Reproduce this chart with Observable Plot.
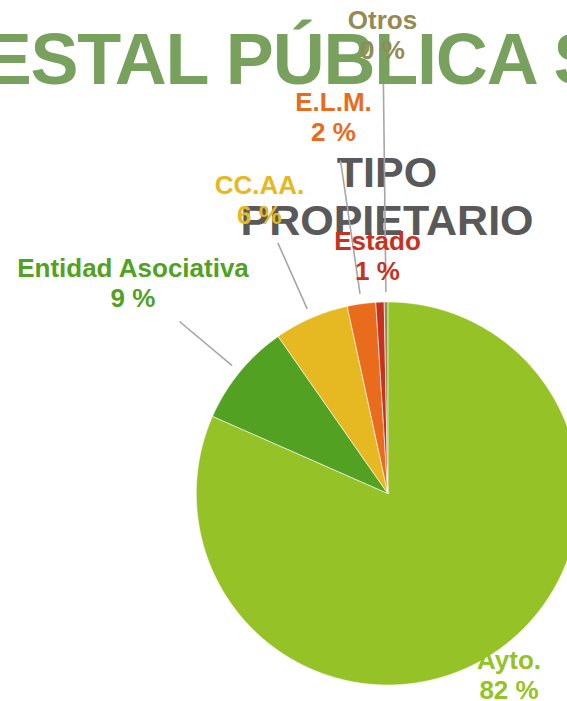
<!DOCTYPE html>
<html>
<head>
<meta charset="utf-8">
<script src="https://cdn.jsdelivr.net/npm/d3@7"></script>
<script src="https://cdn.jsdelivr.net/npm/@observablehq/plot@0.6"></script>
<style>
  html, body { margin: 0; padding: 0; background: #fff; }
  #chart svg { display: block; }
</style>
</head>
<body>
<div id="chart"></div>
<script>
// ---- data ----
const categories = ["Ayto.", "Entidad Asociativa", "CC.AA.", "E.L.M.", "Estado", "Otros"];
const shares = [81.6, 8.7, 6.3, 2.4, 0.7, 0.3];
const sliceColors = ["#95C226", "#53A123", "#E6B822", "#E96B1C", "#C7321F", "#948A54"];
const pageTitle = "ESTAL PÚBLICA S";
const chartTitle = "TIPO\nPROPIETARIO";

// ---- layout (page pixels) ----
const W = 567, H = 701, CX = 387.3, CY = 493, R = 191.5;
// baseline of the percentage line of each label
const labelAnchor = [[508.5, 698], [132.5, 306], [259, 223.3], [333, 140.7], [377, 279.3], [382, 58.3]];
// outer end of each leader line (null = no leader)
const leaderOuter = [null, [179, 321], [277.3, 242.3], [340, 160], null, [382.7, 66]];
const px = (x) => x - CX;     // page x -> plot x
const py = (y) => CY - y;     // page y -> plot y (up)

// ---- derived geometry via d3.pie ----
const pieData = categories.map((name, i) => ({name, share: shares[i]}));
const arcs = d3.pie().sort(null).value(d => d.share)(pieData);

const slicePts = [];
arcs.forEach(a => {
  const name = a.data.name;
  slicePts.push({name, x: 0, y: 0});
  const steps = Math.max(2, Math.ceil((a.endAngle - a.startAngle) / (Math.PI / 720)));
  for (let k = 0; k <= steps; k++) {
    const t = a.startAngle + (a.endAngle - a.startAngle) * k / steps;
    slicePts.push({name, x: R * Math.sin(t), y: R * Math.cos(t)});
  }
  slicePts.push({name, x: 0, y: 0});
});

const leaders = [];
arcs.forEach((a, i) => {
  if (!leaderOuter[i]) return;
  const m = (a.startAngle + a.endAngle) / 2;
  leaders.push({
    x1: (R + 10) * Math.sin(m), y1: (R + 10) * Math.cos(m),
    x2: px(leaderOuter[i][0]), y2: py(leaderOuter[i][1])
  });
});

const labels = arcs.map((a, i) => ({
  name: a.data.name,
  text: `${a.data.name}\n${Math.round(a.data.share)} %`,
  x: px(labelAnchor[i][0]),
  y: py(labelAnchor[i][1])
}));

const font = "'Liberation Sans', Arial, Helvetica, sans-serif";

const svg = Plot.plot({
  width: W,
  height: H,
  margin: 0,
  x: {domain: [-CX, W - CX], axis: null},
  y: {domain: [CY - H, CY], axis: null},
  color: {domain: categories, range: sliceColors},
  marks: [
    Plot.text([chartTitle], {
      x: () => px(386.5), y: () => py(234), text: d => d,
      fontFamily: font, fontWeight: "bold", fontSize: 43,
      lineAnchor: "bottom", lineHeight: 1.116, textAnchor: "middle",
      fill: "#595959"
    }),
    Plot.line(slicePts, {
      x: "x", y: "y", z: "name", fill: "name",
      stroke: "#ffffff", strokeWidth: 0.6, strokeLinejoin: "round", curve: "linear"
    }),
    Plot.link(leaders, {
      x1: "x1", y1: "y1", x2: "x2", y2: "y2",
      stroke: "#A6A6A6", strokeWidth: 1.6
    }),
    Plot.text([pageTitle], {
      frameAnchor: "top-left", text: d => d, dx: -16.8, dy: 83.3,
      lineAnchor: "bottom", textAnchor: "start",
      fontFamily: font, fontWeight: "bold", fontSize: 72, fill: "#78A15D"
    }),
    Plot.text(labels, {
      x: "x", y: "y", text: "text", fill: "name",
      fontFamily: font, fontWeight: "bold", fontSize: 26,
      lineAnchor: "bottom", lineHeight: 1.154, textAnchor: "middle"
    })
  ]
});

d3.select(svg).selectAll("text")
  .filter(function () { return this.textContent === pageTitle; })
  .attr("letter-spacing", "-1.2");

document.getElementById("chart").appendChild(svg);
</script>
</body>
</html>
